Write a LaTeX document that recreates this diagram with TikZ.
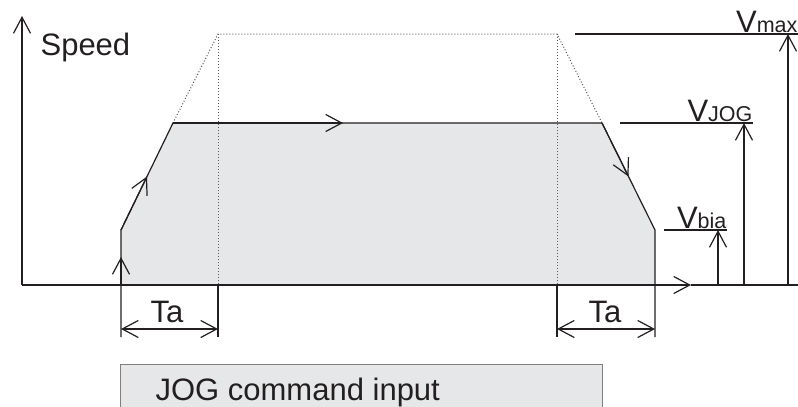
\documentclass[tikz,border=0pt]{standalone}
\usepackage{fontspec}
\setmainfont{Liberation Sans}
\usetikzlibrary{arrows.meta,calc}

\definecolor{areagray}{HTML}{E6E7E8}
\definecolor{ink}{HTML}{231F20}
\newcommand{\lblfont}{\fontsize{31}{37}\selectfont}
\newcommand{\subfont}{\fontsize{21.5}{25}\selectfont}

\tikzset{
  barb/.style={-{Straight Barb[length=16pt,width=17pt]}},
  dimline/.style={{Straight Barb[length=16pt,width=17pt]}-{Straight Barb[length=16pt,width=17pt]}},
  lbl/.style={inner sep=0pt,font=\lblfont},
  guide/.style={dotted,line width=1pt,gray!70!black},
}

\begin{document}
\begin{tikzpicture}[x=1pt,y=-1pt,line width=1.2pt,color=ink]
  \useasboundingbox (0,0) rectangle (798,407);
  \clip (0,0) rectangle (798,407);

  % corners of the speed profile
  \coordinate (start) at (121,285);
  \coordinate (bias1) at (121,230);
  \coordinate (run1) at (173,123);
  \coordinate (run2) at (602,123);
  \coordinate (bias2) at (655,230);
  \coordinate (stop) at (655,285);
  \coordinate (max1) at (218,34);
  \coordinate (max2) at (557,34);

  \fill[areagray] (start) -- (bias1) -- (run1) -- (run2) -- (bias2) -- (stop) -- cycle;

  % profile up to Vmax
  \draw[guide] (run1) -- (max1) -- (max2) -- (run2);
  \draw[guide] (max1) -- (218,285);
  \draw[guide] (max2) -- (557,285);

  % axes
  \draw[barb] (22,285) -- (22,16);
  \node[lbl,anchor=base west] (speed) at (40,55) {Speed};
  \draw[barb] (22,285) -- (691,285);
  \draw (691,285) -- (798,285);

  % JOG profile
  \draw (121,337) -- (bias1) -- (run1) -- (run2) -- (bias2) -- (655,337);
  \draw[barb] (start) -- (121,257);
  \draw[barb] (bias1) -- ($(bias1)!0.5!(run1)$);
  \draw[barb] (run1) -- (343,123);
  \draw[barb] (run2) -- ($(run2)!0.5!(bias2)$);

  % acceleration time
  \draw (218,285) -- (218,337);
  \draw (557,285) -- (557,337);
  \draw[dimline] (121,329) -- (218,329);
  \draw[dimline] (557,329) -- (655,329);
  \node[lbl,anchor=base] (ta1) at (167,322) {Ta};
  \node[lbl,anchor=base] (ta2) at (605,322) {Ta};

  % speed levels
  \foreach \x/\y/\a/\b/\sub in {788/34/575/798/max, 744/123/620/753/JOG, 718/230/664/727/bia}
  {
    \draw (\a,\y) -- (\b,\y);
    \draw[barb] (\x,285) -- (\x,\y);
    \node[lbl,anchor=base east] (v\sub) at (\b,\y-2) {V{\subfont\sub}};
  }

  % input signal
  \draw[fill=areagray,draw=gray,line width=1pt] (120,364) rectangle (602,420);
  \node[lbl,anchor=base west] (jog) at (155,400.5) {JOG command input};
\end{tikzpicture}
\end{document}
